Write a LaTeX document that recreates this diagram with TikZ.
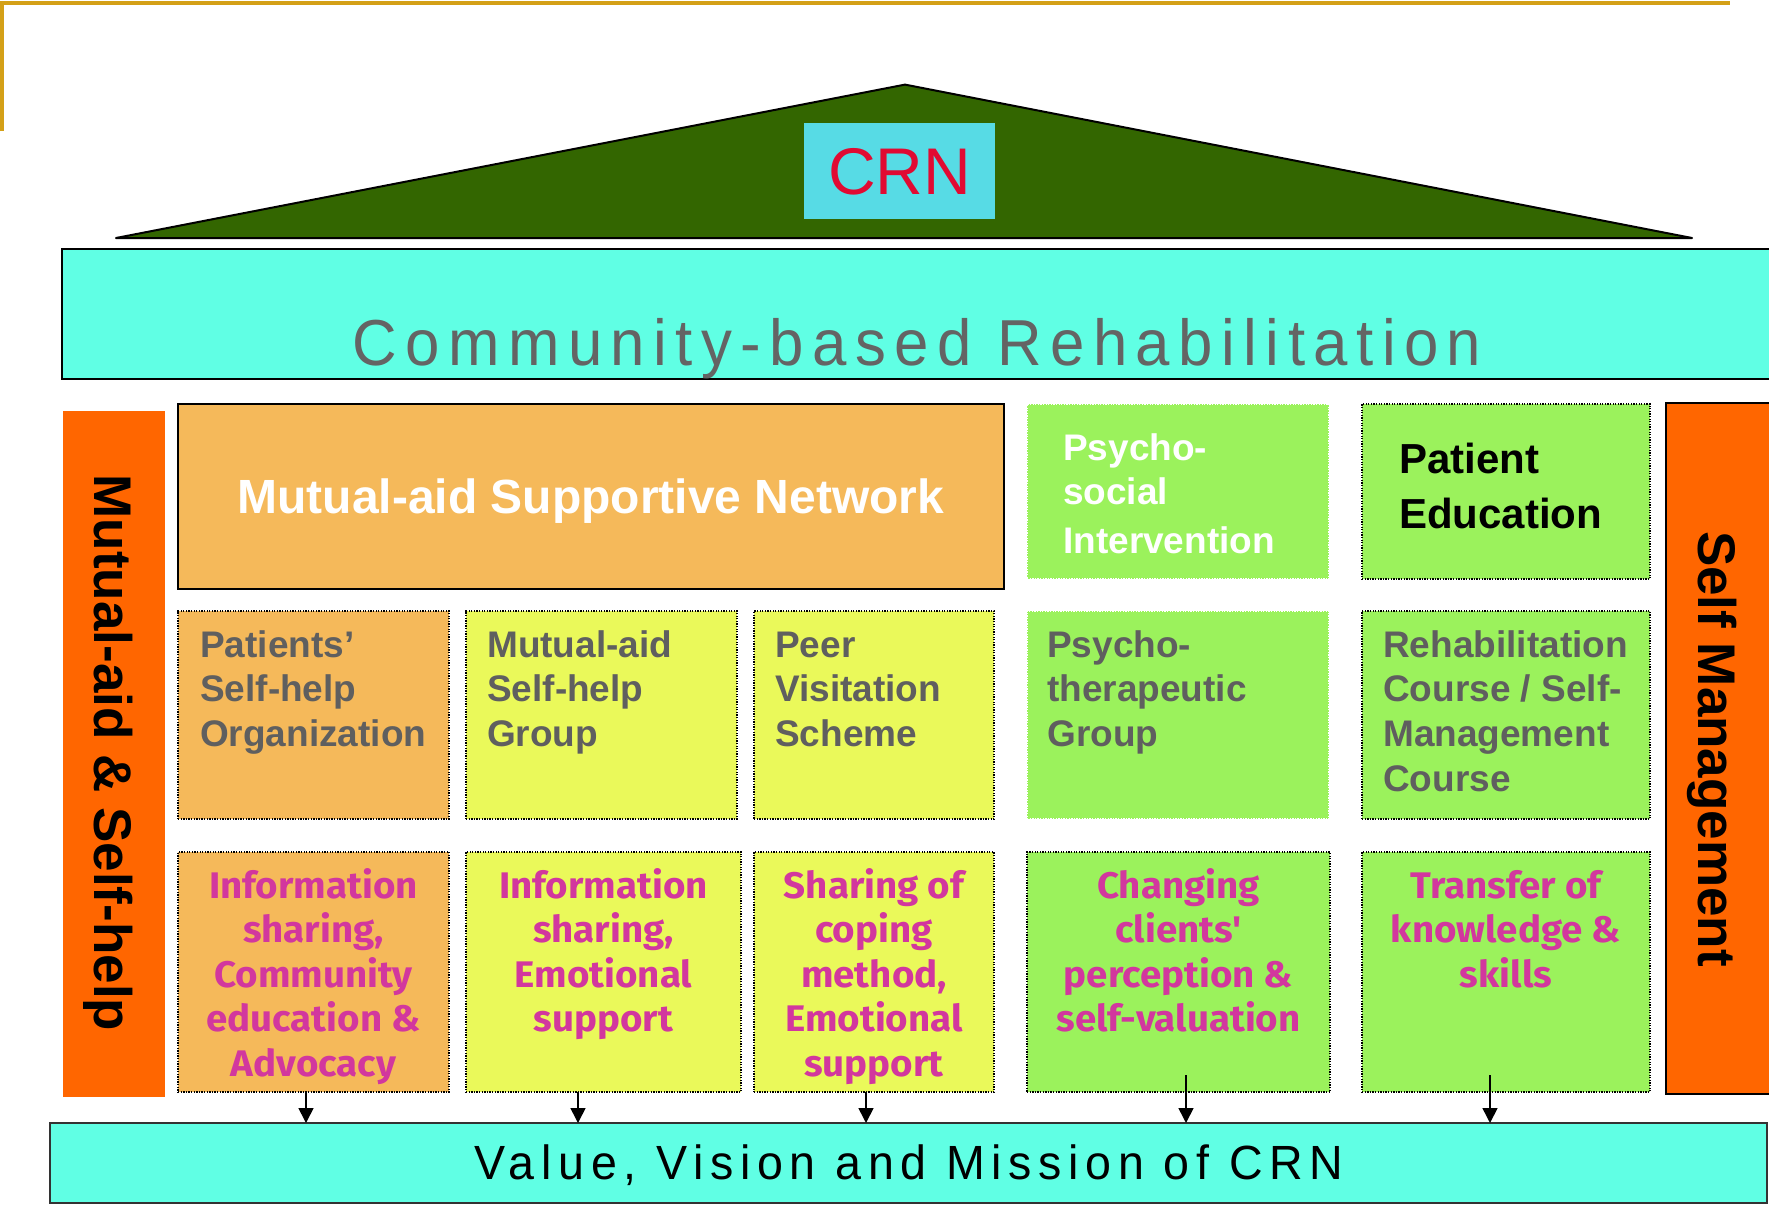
\documentclass[tikz,border=0pt]{standalone}
\usepackage{fontspec}
\setmainfont{Liberation Sans}
\newfontfamily\cbrfont[FakeStretch=0.95,LetterSpace=13]{Liberation Sans}
\newfontfamily\vvmfont[FakeStretch=0.97,LetterSpace=14]{Liberation Sans}
\newfontfamily\notefont[FakeStretch=1.04]{Fira Sans}
\usetikzlibrary{arrows.meta}

\definecolor{gold}{RGB}{212,160,23}
\definecolor{roofgreen}{RGB}{51,102,0}
\definecolor{crnbox}{RGB}{87,219,229}
\definecolor{crnred}{RGB}{225,10,50}
\definecolor{aqua}{RGB}{96,255,228}
\definecolor{pillar}{RGB}{255,102,0}
\definecolor{apricot}{RGB}{245,185,90}
\definecolor{lemon}{RGB}{234,249,90}
\definecolor{lime}{RGB}{155,242,92}
\definecolor{slate}{RGB}{95,95,95}
\definecolor{magentatext}{RGB}{210,55,158}
\definecolor{cbrgrey}{RGB}{100,100,100}

\begin{document}
\begin{tikzpicture}[x=1pt,y=-1pt,
  cell/.style={anchor=north west, inner sep=0pt, outer sep=0pt},
  dotframe/.style={draw=black, line width=1.3pt, dash pattern=on 1.3pt off 1.3pt},
  lightframe/.style={draw=white, line width=1.3pt, dash pattern=on 1.3pt off 1.3pt},
  greylabel/.style={anchor=north west, inner sep=0pt, align=left, text=slate,
    font=\fontsize{37}{44.7}\selectfont\bfseries},
  effect/.style={anchor=north, inner sep=0pt, align=center, text=magentatext,
    font=\notefont\fontsize{37}{44.5}\selectfont\bfseries},
  arr/.style={-{Triangle[length=15pt,width=15pt]}, line width=1.6pt},
]
\useasboundingbox (0,0) rectangle (1769,1207);

% corner frame
\draw[gold, line width=3.5pt] (1.8,131) -- (1.8,3.2) -- (1730,3.2);

% roof
\draw[fill=roofgreen, line width=2pt, line join=round] (116,238) -- (905,84.6) -- (1692,238) -- cycle;
\node[cell, fill=crnbox, minimum width=191pt, minimum height=96pt] (crn) at (804,123) {};
\node[anchor=base, inner sep=0pt, text=crnred, font=\fontsize{66}{70}\selectfont] (crnlabel) at (899.5,194) {CRN};

% beam
\node[cell, fill=aqua, draw=black, line width=2pt, minimum width=1730pt, minimum height=130pt] (cbr) at (62,249) {};
\node[anchor=base, inner sep=0pt, text=cbrgrey, font=\cbrfont\fontsize{65}{70}\selectfont] (cbrlabel) at (917,365) {Community-based Rehabilitation};

% pillars
\node[cell, fill=pillar, minimum width=102pt, minimum height=686pt] (leftpillar) at (63,411) {};
\node[rotate=-90, anchor=base, inner sep=0pt, font=\fontsize{53}{60}\selectfont\bfseries] (leftlabel) at (94,753) {Mutual-aid \& Self-help};
\node[cell, fill=pillar, draw=black, line width=1.5pt, minimum width=120pt, minimum height=691pt] (rightpillar) at (1666,403) {};
\node[rotate=-90, anchor=base, inner sep=0pt, font=\fontsize{53}{60}\selectfont\bfseries] (rightlabel) at (1698,749) {Self Management};

% first row
\node[cell, fill=apricot, draw=black, line width=2pt, minimum width=826pt, minimum height=185pt] (msn) at (178,404) {};
\node[anchor=base, inner sep=0pt, text=white, font=\fontsize{48}{50}\selectfont\bfseries] (msnlabel) at (591,513) {Mutual-aid Supportive Network};

\node[cell, fill=lime, lightframe, minimum width=302pt, minimum height=175pt] (psi) at (1027,404) {};
\node[anchor=north west, inner sep=0pt, align=left, text=white, font=\fontsize{37}{44}\selectfont\bfseries] (psilabel) at (1063,429.2) {\strut Psycho-\\social\\[5pt]Intervention};

\node[cell, fill=lime, dotframe, minimum width=288pt, minimum height=175pt] (pe) at (1362,404) {};
\node[anchor=north west, inner sep=0pt, align=left, font=\fontsize{42}{55}\selectfont\bfseries] (pelabel) at (1399,434.5) {\strut Patient\\Education};

% second row
\node[cell, fill=apricot, dotframe, minimum width=271pt, minimum height=208pt] (A2) at (178,611) {};
\node[greylabel] (A2t) at (200,625.7) {\strut Patients’\\Self-help\\Organization};
\node[cell, fill=lemon, dotframe, minimum width=271pt, minimum height=208pt] (B2) at (466,611) {};
\node[greylabel] (B2t) at (487,625.7) {\strut Mutual-aid\\Self-help\\Group};
\node[cell, fill=lemon, dotframe, minimum width=240pt, minimum height=208pt] (C2) at (754,611) {};
\node[greylabel] (C2t) at (775,625.7) {\strut Peer\\Visitation\\Scheme};
\node[cell, fill=lime, lightframe, minimum width=302pt, minimum height=208pt] (D2) at (1027,611) {};
\node[greylabel] (D2t) at (1047,625.7) {\strut Psycho-\\therapeutic\\Group};
\node[cell, fill=lime, dotframe, minimum width=288pt, minimum height=208pt] (E2) at (1362,611) {};
\node[greylabel] (E2t) at (1383,625.7) {\strut Rehabilitation\\Course / Self-\\Management\\Course};

% third row
\node[cell, fill=apricot, dotframe, minimum width=271pt, minimum height=240pt] (A3) at (178,852) {};
\node[effect] (A3t) at (313.5,866.85) {\strut Information\\sharing,\\Community\\education \&\\Advocacy};
\node[cell, fill=lemon, dotframe, minimum width=275pt, minimum height=240pt] (B3) at (466,852) {};
\node[effect] (B3t) at (603.5,866.85) {\strut Information\\sharing,\\Emotional\\support};
\node[cell, fill=lemon, dotframe, minimum width=240pt, minimum height=240pt] (C3) at (754,852) {};
\node[effect] (C3t) at (874,866.85) {\strut Sharing of\\coping\\method,\\Emotional\\support};
\node[cell, fill=lime, dotframe, minimum width=303pt, minimum height=240pt] (D3) at (1027,852) {};
\node[effect] (D3t) at (1178.5,866.85) {\strut Changing\\clients'\\perception \&\\self-valuation};
\node[cell, fill=lime, dotframe, minimum width=288pt, minimum height=240pt] (E3) at (1362,852) {};
\node[effect] (E3t) at (1506,866.85) {\strut Transfer of\\knowledge \&\\skills};

% foundation
\node[cell, fill=aqua, draw=black!80, line width=2pt, minimum width=1717pt, minimum height=80pt] (vvm) at (50,1123) {};
\node[anchor=base, inner sep=0pt, font=\vvmfont\fontsize{48}{50}\selectfont] (vvmlabel) at (909,1179) {Value, Vision and Mission of CRN};

% arrows into the foundation
\draw[arr] ([xshift=-7.5pt]A3.south) -- ([xshift=-7.5pt]A3.south |- vvm.north);
\draw[arr] ([xshift=-25.5pt]B3.south) -- ([xshift=-25.5pt]B3.south |- vvm.north);
\draw[arr] ([xshift=-8pt]C3.south) -- ([xshift=-8pt]C3.south |- vvm.north);
\draw[arr] ([xshift=7.5pt,yshift=17pt]D3.south) -- ([xshift=7.5pt]D3.south |- vvm.north);
\draw[arr] ([xshift=-16pt,yshift=17pt]E3.south) -- ([xshift=-16pt]E3.south |- vvm.north);
\end{tikzpicture}
\end{document}
